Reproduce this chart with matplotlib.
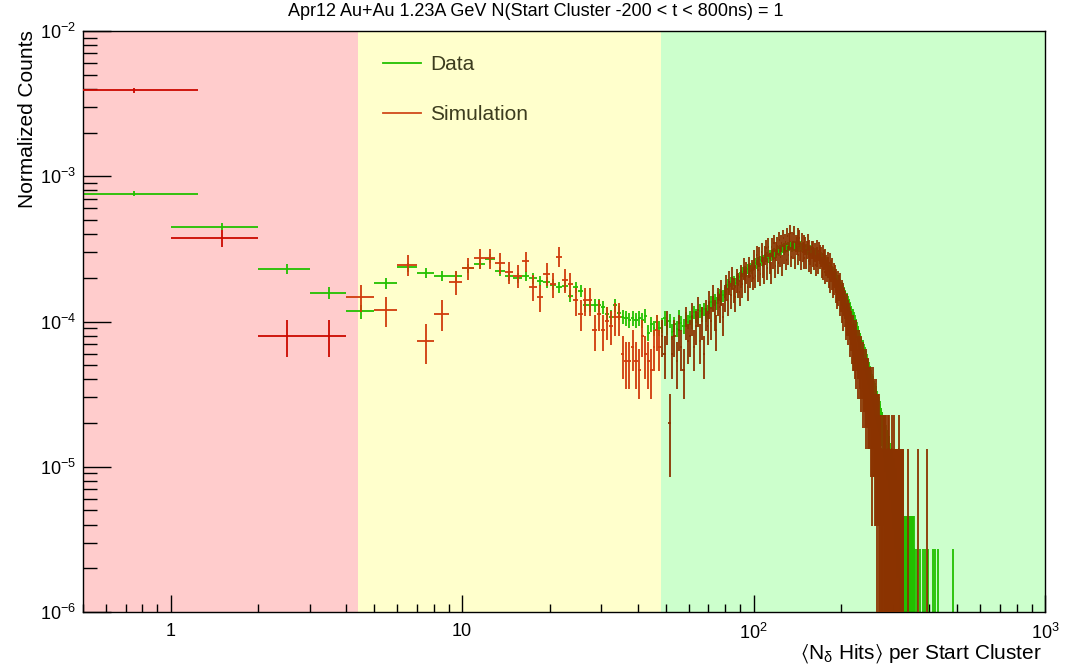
import numpy as np
import matplotlib
matplotlib.use("Agg")
import matplotlib.pyplot as plt
from matplotlib.lines import Line2D
from matplotlib.ticker import FixedLocator, FixedFormatter, LogLocator, NullFormatter

plt.rcParams["font.family"] = ["Liberation Sans", "DejaVu Sans"]
plt.rcParams["mathtext.fontset"] = "custom"
plt.rcParams["mathtext.rm"] = "Liberation Sans"
plt.rcParams["mathtext.it"] = "Liberation Sans:italic"
plt.rcParams["mathtext.bf"] = "Liberation Sans:bold"
plt.rcParams["mathtext.fallback"] = "stixsans"

# ---------------- Data ----------------
TITLE = "Apr12 Au+Au 1.23A GeV N(Start Cluster -200 < t < 800ns) = 1"
XLABEL = "$\u27e8$N$_{\\mathrm{\\delta}}$ Hits$\u27e9$ per Start Cluster"
YLABEL = "Normalized Counts"

# entries per bin, one bin per hit count: bin n covers [n, n+1)
data_counts = [
    563, 333, 170, 117, 87, 136, 175, 161, 153, 152,
    172, 185, 201, 164, 152, 148, 153, 147, 141, 138,
    133, 127, 131, 111, 127, 121, 96, 96, 96, 96,
    93, 84, 80, 96, 85, 80, 78, 76, 78, 76,
    78, 76, 81, 62, 71, 67, 74, 67, 70, 78,
    68, 75, 63, 71, 66, 80, 72, 69, 77, 74,
    79, 74, 86, 81, 77, 88, 84, 90, 82, 87,
    93, 101, 97, 105, 99, 108, 114, 106, 112, 118,
    124, 133, 128, 139, 135, 141, 137, 146, 143, 150,
    155, 162, 158, 167, 163, 170, 166, 175, 171, 178,
    182, 188, 184, 193, 189, 196, 191, 199, 195, 203,
    205, 210, 202, 214, 209, 217, 212, 221, 215, 219,
    226, 231, 224, 234, 229, 238, 233, 240, 235, 242,
    239, 246, 241, 249, 244, 238, 247, 243, 251, 245,
    248, 241, 246, 240, 249, 243, 238, 245, 240, 236,
    239, 232, 236, 229, 234, 227, 233, 225, 230, 222,
    226, 219, 223, 214, 220, 211, 216, 208, 213, 204,
    209, 201, 205, 196, 200, 192, 196, 188, 191, 183,
    181, 175, 177, 169, 172, 164, 167, 159, 162, 154,
    155, 149, 150, 142, 144, 137, 139, 132, 133, 126,
    127, 121, 122, 115, 117, 110, 111, 105, 106, 100,
    101, 96, 96, 90, 91, 86, 86, 81, 81, 76,
    77, 73, 73, 68, 69, 65, 65, 61, 61, 57,
    57, 54, 54, 50, 51, 48, 48, 45, 45, 42,
    43, 40, 40, 38, 38, 35, 35, 33, 33, 31,
    31, 29, 29, 27, 27, 26, 26, 24, 24, 23,
    23, 21, 22, 20, 20, 19, 19, 18, 18, 17,
    17, 16, 16, 15, 15, 14, 14, 13, 13, 12,
    13, 11, 12, 10, 11, 10, 10, 9, 10, 9,
    9, 8, 9, 7, 8, 7, 7, 6, 7, 6,
    6, 5, 6, 5, 5, 4, 5, 4, 5, 4,
    4, 3, 4, 3, 4, 3, 3, 2, 3, 2,
    3, 2, 3, 2, 2, 1, 2, 2, 1, 2,
    2, 1, 2, 1, 1, 2, 1, 1, 2, 1,
    1, 2, 1, 2, 1, 1, 2, 1, 1, 2,
    2, 1, 1, 2, 1, 1, 2, 1, 0, 0,
    0, 0, 0, 1, 0, 0, 0, 0, 0, 0,
    0, 0, 1, 0, 0, 0, 0, 0, 0, 0,
    0, 1, 0, 0, 0, 0, 0, 1, 0, 0,
    0, 0, 0, 0, 0, 0, 1, 0, 0, 0,
    0, 0, 0, 0, 0, 0, 0, 0, 0, 0,
    0, 0, 1, 0, 0, 0, 0, 0, 0, 1,
    0, 0, 0, 0, 0, 0, 0, 0, 0, 1,
    0, 0, 0, 0, 0, 0, 0, 0, 0, 0,
    0, 0, 0, 0, 0, 0, 0, 0, 0, 0,
    0, 0, 0, 0, 0, 0, 0, 0, 0, 0,
    0, 0, 0, 0, 0, 0, 0, 0, 0, 0,
    0, 0, 0, 0, 0, 0, 0, 0, 0, 0,
    0, 0, 0, 1, 0, 0, 0, 0, 0, 0,
]

sim_counts = [
    585, 56, 12, 12, 22, 18, 37, 11, 17, 28,
    35, 41, 41, 38, 33, 31, 39, 26, 22, 32,
    27, 42, 29, 27, 21, 17, 21, 21, 13, 17,
    13, 15, 14, 16, 16, 9, 8, 8, 10, 8,
    7, 12, 9, 8, 7, 10, 13, 10, 12, 9,
    14, 3, 9, 12, 8, 13, 10, 7, 15, 11,
    12, 16, 10, 14, 18, 11, 15, 9, 17, 14,
    20, 15, 22, 17, 13, 21, 19, 24, 16, 22,
    26, 21, 28, 23, 30, 25, 22, 29, 27, 24,
    31, 27, 35, 29, 33, 26, 36, 31, 34, 30,
    40, 31, 43, 34, 42, 32, 45, 36, 33, 43,
    48, 35, 49, 38, 33, 49, 41, 52, 36, 46,
    50, 38, 55, 42, 52, 37, 56, 44, 53, 40,
    58, 43, 54, 61, 42, 55, 47, 60, 41, 52,
    50, 58, 43, 56, 46, 40, 54, 45, 52, 41,
    50, 41, 47, 53, 39, 48, 43, 38, 47, 42,
    47, 40, 45, 37, 48, 42, 38, 46, 41, 44,
    42, 36, 44, 35, 40, 33, 41, 37, 34, 39,
    36, 31, 38, 29, 34, 30, 35, 27, 32, 28,
    31, 25, 29, 23, 28, 24, 26, 21, 27, 22,
    24, 19, 23, 17, 21, 18, 20, 15, 19, 16,
    17, 14, 16, 12, 15, 13, 14, 11, 13, 10,
    12, 10, 11, 9, 12, 8, 10, 9, 7, 10,
    9, 7, 8, 6, 9, 7, 5, 8, 6, 7,
    6, 5, 7, 4, 6, 5, 4, 6, 5, 4,
    5, 4, 3, 5, 2, 4, 3, 5, 3, 4,
    3, 2, 4, 2, 1, 3, 2, 3, 3, 1,
    2, 1, 2, 1, 2, 1, 1, 2, 1, 2,
    1, 2, 1, 1, 2, 1, 1, 1, 2, 1,
    1, 1, 2, 1, 1, 1, 1, 2, 1, 1,
    1, 1, 1, 2, 1, 1, 1, 1, 1, 1,
    1, 1, 1, 1, 2, 1, 1, 1, 1, 1,
    1, 1, 0, 1, 1, 0, 1, 0, 0, 0,
    0, 0, 0, 0, 0, 0, 0, 0, 1, 0,
    0, 0, 0, 0, 0, 0, 0, 0, 0, 0,
    0, 0, 0, 0, 0, 0, 0, 0, 0, 0,
    0, 0, 0, 0, 0, 0, 1, 0, 0, 0,
    0, 0, 0, 0, 0, 0, 0, 0, 0, 0,
    0, 0, 0, 0, 0, 0, 0, 0, 0, 0,
    0, 0, 0, 1, 0, 0, 0, 0, 0, 0,
]

# normalized value of a single entry
data_unit = 1.35e-6
sim_unit = 6.67e-6

# the [0,1) bin as ROOT shows it on a log axis starting at 0.5: (left, centre, right)
first_bin = (0.5, 0.75, 1.24)

# shaded N_delta ranges
region_edges = [0.5, 4.4, 48.3, 1000]
region_colors = ["#ffcccc", "#ffffcc", "#ccffcc"]
sim_colors = ["#cc0800", "#d03c0c", "#8b3300"]
data_color = "#22c000"
legend_sim_color = "#d04a1a"

xticks = [1, 10, 100, 1000]
xtick_labels = ["1", "10", "$10^{2}$", "$10^{3}$"]
yticks = [1e-6, 1e-5, 1e-4, 1e-3, 1e-2]
ytick_labels = ["$10^{-6}$", "$10^{-5}$", "$10^{-4}$", "$10^{-3}$", "$10^{-2}$"]


# ---------------- Helpers ----------------
def bin_geometry(n):
    lo = np.arange(n, dtype=float)
    hi = lo + 1.0
    mid = lo + 0.5
    lo[0], mid[0], hi[0] = first_bin
    return lo, mid, hi


def draw_hist(ax, counts, unit, color, mask=None, zorder=2):
    counts = np.asarray(counts, dtype=float)
    lo, mid, hi = bin_geometry(len(counts))
    keep = counts > 0
    if mask is not None:
        keep &= mask
    y = counts[keep] * unit
    err = np.sqrt(counts[keep]) * unit
    err_lo = np.minimum(err, y - 1e-9)
    ax.errorbar(
        mid[keep], y,
        xerr=[mid[keep] - lo[keep], hi[keep] - mid[keep]],
        yerr=[err_lo, err],
        fmt="none", ecolor=color, elinewidth=1.3, capsize=0, zorder=zorder,
    )


# ---------------- Figure ----------------
fig = plt.figure(figsize=(10.72, 6.64), dpi=100)
ax = fig.add_axes([83 / 1072, 1 - 612 / 664, (1045 - 83) / 1072, (612 - 31) / 664])
ax.set_xscale("log")
ax.set_yscale("log")

for lo, hi, c in zip(region_edges[:-1], region_edges[1:], region_colors):
    ax.axvspan(lo, hi, color=c, lw=0, zorder=0)

draw_hist(ax, data_counts, data_unit, data_color, zorder=2)

_, mids, _ = bin_geometry(len(sim_counts))
for lo, hi, c in zip(region_edges[:-1], region_edges[1:], sim_colors):
    draw_hist(ax, sim_counts, sim_unit, c, mask=(mids >= lo) & (mids < hi), zorder=3)

ax.set_xlim(region_edges[0], region_edges[-1])
ax.set_ylim(yticks[0], yticks[-1])

ax.xaxis.set_major_locator(FixedLocator(xticks))
ax.xaxis.set_major_formatter(FixedFormatter(xtick_labels))
ax.xaxis.set_minor_locator(LogLocator(base=10, subs=np.arange(2, 10)))
ax.xaxis.set_minor_formatter(NullFormatter())
ax.yaxis.set_major_locator(FixedLocator(yticks))
ax.yaxis.set_major_formatter(FixedFormatter(ytick_labels))
ax.yaxis.set_minor_locator(LogLocator(base=10, subs=np.arange(2, 10)))
ax.yaxis.set_minor_formatter(NullFormatter())

ax.tick_params(which="both", direction="in", top=False, right=False, width=1.0, labelsize=13)
ax.tick_params(axis="x", which="major", length=12, pad=8)
ax.tick_params(axis="x", which="minor", length=6)
ax.tick_params(axis="y", which="major", length=20, pad=5)
ax.tick_params(axis="y", which="minor", length=10)
for s in ax.spines.values():
    s.set_linewidth(1.0)

fig.text(0.5, 1 - 12 / 664, TITLE, ha="center", va="center", fontsize=13)
fig.text(1042 / 1072, 1 - 654 / 664, XLABEL, ha="right", va="center", fontsize=15)
fig.text(28 / 1072, 1 - 30 / 664, YLABEL, rotation=90, ha="center", va="top", fontsize=15)

handles = [Line2D([], [], color=data_color, lw=1.3),
           Line2D([], [], color=legend_sim_color, lw=1.3)]
leg = ax.legend(handles, ["Data", "Simulation"], loc="upper left",
                bbox_to_anchor=((383 - 83) / 962, (612 - 55) / 581),
                frameon=False, fontsize=15, handlelength=1.8, handletextpad=0.45,
                labelspacing=1.5, borderpad=0, borderaxespad=0)
for t in leg.get_texts():
    t.set_color("#3c3c1e")

fig.savefig("out.png", dpi=100)
